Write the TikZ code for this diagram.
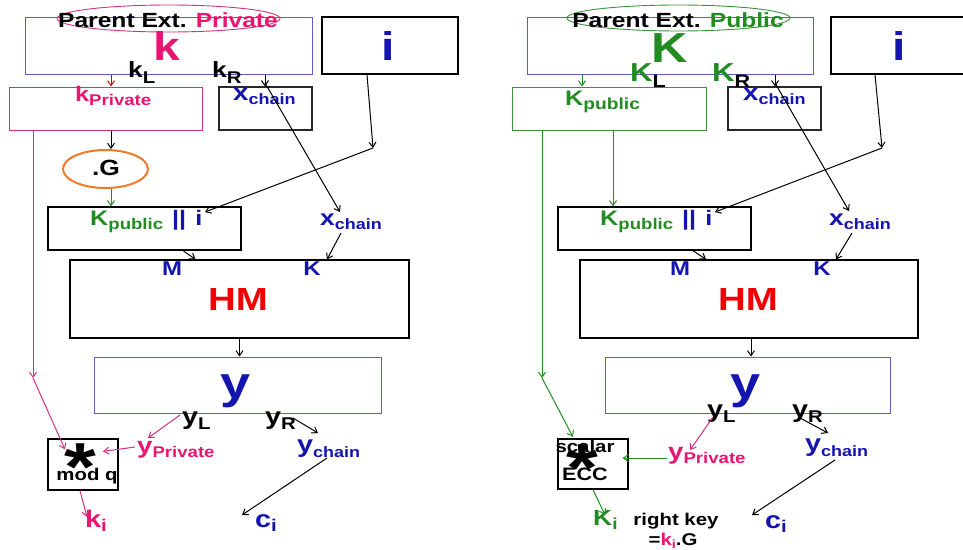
\documentclass[tikz,border=0pt]{standalone}
\usepackage{fontspec}
\setmainfont{Liberation Sans}[FakeStretch=1.2]
\usetikzlibrary{arrows.meta,shapes.geometric}

\definecolor{pk}{RGB}{232,22,112}
\definecolor{pkline}{RGB}{214,48,128}
\definecolor{gr}{RGB}{34,140,34}
\definecolor{grline}{RGB}{60,145,60}
\definecolor{bl}{RGB}{20,20,175}
\definecolor{blline}{RGB}{92,92,205}
\definecolor{hmred}{RGB}{240,0,0}
\definecolor{og}{RGB}{238,122,42}
\definecolor{dk}{RGB}{40,40,40}

\newcommand\fs[1]{\fontsize{#1}{#1}\selectfont}
\newcommand\sub[3]{\raisebox{-#1}{\fs{#2}#3}}

\tikzset{
  box/.style={draw=#1, line width=1pt, inner sep=0pt, rectangle},
  oval/.style={draw=#1, ellipse, inner sep=0pt},
  lbl/.style={inner sep=0pt, font=\bfseries},
  arr/.style={-{Straight Barb[length=5pt,width=7pt]}, line width=1pt},
}

\begin{document}
\begin{tikzpicture}[x=1pt,y=-1pt]
\clip (0,0) rectangle (963,549);
\fill[white] (0,0) rectangle (963,549);

% ---------------- private derivation (left) ----------------
\node[box=blline, minimum width=287pt, minimum height=57pt] (apar) at (168.5,45.5) {};
\node[oval=pkline, line width=0.9pt, minimum width=223pt, minimum height=27pt] (aell) at (168.5,18.5) {};
\node[box=black, line width=1.2pt, minimum width=136pt, minimum height=57pt] (aI) at (390,45.5) {};
\node[box=pkline, minimum width=193pt, minimum height=43pt] (akpb) at (105.5,108.5) {};
\node[box=dk, line width=1.2pt, minimum width=93pt, minimum height=43pt] (axb) at (265.5,108.5) {};
\node[oval=og, line width=2pt, minimum width=85pt, minimum height=38pt] (aG) at (105.5,169) {};
\node[box=black, line width=1.2pt, minimum width=193pt, minimum height=43pt] (akib) at (144.5,228.5) {};
\node[box=black, line width=1.2pt, minimum width=339pt, minimum height=78pt] (aHM) at (239.5,299) {};
\node[box=blline, minimum width=287pt, minimum height=56pt] (aY) at (237.5,385) {};
\node[box=black, line width=1.2pt, minimum width=70pt, minimum height=51pt] (astb) at (83,464.5) {};

\node[lbl, anchor=base] (atit) at (168,27) {\fs{20.5}Parent Ext. \textcolor{pk}{Private}};
\node[lbl, anchor=base, text=pk] (abk) at (167,60) {\fs{40}k};
\node[lbl, anchor=base west] (akL) at (128,77) {\fs{22}k\sub{6pt}{17}{L}};
\node[lbl, anchor=base west] (akR) at (212,77) {\fs{22}k\sub{6pt}{17}{R}};
\node[lbl, anchor=base, text=bl] (ai) at (388,60) {\fs{40}i};
\node[lbl, anchor=base west, text=pk] (akp) at (75,101) {\fs{21}k\sub{4pt}{15.5}{Private}};
\node[lbl, anchor=base west, text=bl] (axc) at (233,100) {\fs{23}x\sub{4pt}{15}{chain}};
\node[lbl, anchor=base] (aGt) at (106,175) {\fs{22}.G};
\node[lbl, anchor=base west] (aki) at (90,225) {\fs{21}\textcolor{gr}{K\sub{4pt}{15.5}{public}}\hspace{9pt}\textcolor{bl}{||\hspace{9pt}i}};
\node[lbl, anchor=base west, text=bl] (axl) at (320,225) {\fs{22}x\sub{4pt}{15}{chain}};
\node[lbl, anchor=base, text=bl] (aM) at (172,275) {\fs{20}M};
\node[lbl, anchor=base, text=bl] (aK) at (312,275) {\fs{20}K};
\node[lbl, anchor=base, text=hmred] (aHMt) at (238,310) {\fs{32}HM};
\node[lbl, anchor=base, text=bl] (ayt) at (236,398) {\fs{45}y};
\node[lbl, anchor=base west] (ayL) at (182,424) {\fs{24}y\sub{5pt}{17}{L}};
\node[lbl, anchor=base west] (ayR) at (265,424) {\fs{24}y\sub{5pt}{17}{R}};
\node[lbl, anchor=base west, text=pk] (ayP) at (137,453) {\fs{23}y\sub{4pt}{15.5}{Private}};
\node[lbl, anchor=base west, text=bl] (ayc) at (297,452) {\fs{24}y\sub{5pt}{15}{chain}};
\node[lbl, anchor=base] (ast) at (80,490) {\fs{68}*};
\node[lbl, anchor=base] (amq) at (87,480) {\fs{17}mod q};
\node[lbl, anchor=base west, text=pk] (aki2) at (85,527) {\fs{24}k\sub{4pt}{17}{i}};
\node[lbl, anchor=base west, text=bl] (aci) at (255,527) {\fs{24}c\sub{4pt}{17}{i}};

% bend points and label ports
\coordinate (akRo) at (265,83);
\coordinate (axlin) at (340,212);
\coordinate (axlout) at (341,233);
\coordinate (aturn) at (373,148);
\coordinate (aiin) at (205,212);
\coordinate (akink) at (33,378);
\coordinate (ayLo) at (180,415);
\coordinate (ayPin) at (148,438);
\coordinate (ayPo) at (135,447);
\coordinate (akiin) at (87,517);
\coordinate (ayRo) at (293,418);
\coordinate (aycin) at (318,433);
\coordinate (ayco) at (327,458);
\coordinate (aciin) at (242,515);

\draw[arr, red!85!black] ([xshift=-57.5pt]apar.south) -- ([xshift=5.5pt]akpb.north);
\draw[arr] ([xshift=96.5pt]apar.south) -- ([xshift=-0.5pt]axb.north);
\draw[arr] (akRo) -- (axlin);
\draw[arr] ([xshift=-23pt]aI.south) -- (aturn);
\draw[arr] (aturn) -- (aiin);
\draw[arr] ([xshift=5.5pt]akpb.south) -- ([xshift=5.5pt]aG.north);
\draw[arr, gr] ([xshift=5.5pt]aG.south) -- ([xshift=-33.5pt]akib.north);
\draw[arr] ([xshift=38.5pt]akib.south) -- ([xshift=-44pt]aHM.north);
\draw[arr] (axlout) -- ([xshift=87.5pt]aHM.north);
\draw[arr] (aHM.south) -- (aHM.south |- aY.north);
\draw[arr, pkline] ([xshift=-72.5pt]akpb.south) -- (akink);
\draw[arr, pkline] (akink) -- ([xshift=-18pt,yshift=-11pt]astb.north);
\draw[arr, pkline] (ayLo) -- (ayPin);
\draw[arr, pkline] (ayPo) -- ([xshift=20pt,yshift=-13pt]astb.north);
\draw[arr, pkline] ([xshift=-3pt]astb.south) -- (akiin);
\draw[arr] (ayRo) -- (aycin);
\draw[arr] (ayco) -- (aciin);

% ---------------- public derivation (right) ----------------
\node[box=blline, minimum width=286pt, minimum height=57pt] (bpar) at (670,45.5) {};
\node[oval=grline, line width=0.9pt, minimum width=223pt, minimum height=26pt] (bell) at (678.5,18) {};
\node[box=black, line width=1.2pt, minimum width=136pt, minimum height=57pt] (bI) at (899,45.5) {};
\node[box=grline, minimum width=194pt, minimum height=43pt] (bkpb) at (609,108.5) {};
\node[box=dk, line width=1.2pt, minimum width=93pt, minimum height=43pt] (bxb) at (774.5,108.5) {};
\node[box=black, line width=1.2pt, minimum width=193pt, minimum height=43pt] (bkib) at (654.5,228.5) {};
\node[box=black, line width=1.2pt, minimum width=338pt, minimum height=78pt] (bHM) at (749,299) {};
\node[box=blline, minimum width=285pt, minimum height=56pt] (bY) at (747.5,385) {};
\node[box=black, line width=1.2pt, minimum width=70pt, minimum height=50pt] (bstb) at (593,464) {};

\node[lbl, anchor=base] (btit) at (678,27) {\fs{20.5}Parent Ext. \textcolor{gr}{Public}};
\node[lbl, anchor=base, text=gr] (bbk) at (670,62) {\fs{42}K};
\node[lbl, anchor=base west] (bkL) at (630,81) {\fs{26}\textcolor{gr}{K}\sub{6pt}{18}{L}};
\node[lbl, anchor=base west] (bkR) at (712,81) {\fs{26}\textcolor{gr}{K}\sub{6pt}{18}{R}};
\node[lbl, anchor=base, text=bl] (bi) at (899,60) {\fs{40}i};
\node[lbl, anchor=base west, text=gr] (bkp) at (565,105) {\fs{21}K\sub{4pt}{16}{public}};
\node[lbl, anchor=base west, text=bl] (bxc) at (743,100) {\fs{23}x\sub{4pt}{15}{chain}};
\node[lbl, anchor=base west] (bki) at (600,225) {\fs{21}\textcolor{gr}{K\sub{4pt}{15.5}{public}}\hspace{9pt}\textcolor{bl}{||\hspace{9pt}i}};
\node[lbl, anchor=base west, text=bl] (bxl) at (829,225) {\fs{22}x\sub{4pt}{15}{chain}};
\node[lbl, anchor=base, text=bl] (bM) at (680,275) {\fs{20}M};
\node[lbl, anchor=base, text=bl] (bK) at (822,275) {\fs{20}K};
\node[lbl, anchor=base, text=hmred] (bHMt) at (748,310) {\fs{32}HM};
\node[lbl, anchor=base, text=bl] (byt) at (746,398) {\fs{45}y};
\node[lbl, anchor=base west] (byL) at (707,417) {\fs{24}y\sub{5pt}{17}{L}};
\node[lbl, anchor=base west] (byR) at (792,417) {\fs{24}y\sub{5pt}{17}{R}};
\node[lbl, anchor=base west, text=pk] (byP) at (668,459) {\fs{23}y\sub{4pt}{15.5}{Private}};
\node[lbl, anchor=base west, text=bl] (byc) at (805,451) {\fs{24}y\sub{5pt}{15}{chain}};
\node[lbl, anchor=base] (bsc) at (585,452) {\fs{17}scalar};
\node[lbl, anchor=base] (bst) at (582,491) {\fs{68}*};
\node[lbl, anchor=base] (bECC) at (585,480) {\fs{18}ECC};
\node[lbl, anchor=base west, text=gr] (bKi) at (593,525) {\fs{22}K\sub{4pt}{16}{i}};
\node[lbl, anchor=base] (brk) at (676,525) {\fs{17}right key};
\node[lbl, anchor=base] (brk2) at (673,545) {\fs{17}=\textcolor{pk}{k\sub{3pt}{12}{i}}.G};
\node[lbl, anchor=base west, text=bl] (bci) at (765,528) {\fs{24}c\sub{4pt}{17}{i}};

\coordinate (bkRo) at (775,83);
\coordinate (bxlin) at (849,211);
\coordinate (bxlout) at (852,233);
\coordinate (bturn) at (882,148);
\coordinate (biin) at (715,212);
\coordinate (bkink) at (542,378);
\coordinate (bstin) at (573,437);
\coordinate (byLo) at (713,417);
\coordinate (byPin) at (690,450);
\coordinate (byPo) at (667,458);
\coordinate (bKiin) at (605,515);
\coordinate (byRo) at (800,418);
\coordinate (bycin) at (828,433);
\coordinate (byco) at (835,460);
\coordinate (bciin) at (752,515);

\draw[arr, gr] ([xshift=-88pt]bpar.south) -- ([xshift=-27pt]bkpb.north);
\draw[arr] ([xshift=105pt]bpar.south) -- ([xshift=0.5pt]bxb.north);
\draw[arr] (bkRo) -- (bxlin);
\draw[arr] ([xshift=-24pt]bI.south) -- (bturn);
\draw[arr] (bturn) -- (biin);
\draw[arr, gr] ([xshift=-67pt]bkpb.south) -- (bkink);
\draw[arr, gr] (bkink) -- (bstin);
\draw[arr, gr] ([xshift=4pt]bkpb.south) -- ([xshift=-41.5pt]bkib.north);
\draw[arr] ([xshift=38.5pt]bkib.south) -- ([xshift=-43pt]bHM.north);
\draw[arr] (bxlout) -- ([xshift=87pt]bHM.north);
\draw[arr] ([xshift=2pt]bHM.south) -- ([xshift=3.5pt]bY.north);
\draw[arr, pkline] (byLo) -- (byPin);
\draw[arr, gr] (byPo) -- ([xshift=-6pt,yshift=6pt]bstb.east);
\draw[arr, gr] (bstb.south) -- (bKiin);
\draw[arr] (byRo) -- (bycin);
\draw[arr] (byco) -- (bciin);
\end{tikzpicture}
\end{document}
